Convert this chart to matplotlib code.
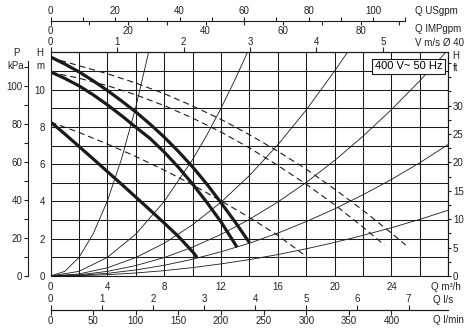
import matplotlib
matplotlib.use('Agg')
import matplotlib.pyplot as plt
from matplotlib.ticker import MultipleLocator, FixedLocator

plt.rcParams['font.family'] = ['Liberation Sans', 'DejaVu Sans']
plt.rcParams['font.size'] = 7

# pump curves (thick), Q in m3/h, H in m
q_speed3 = [0, 1, 2, 3, 4, 5, 6, 7, 8, 9, 10, 11, 12, 13, 14]
h_speed3 = [11.75, 11.37, 10.95, 10.47, 9.95, 9.39, 8.80, 8.15, 7.45, 6.68, 5.85, 4.93, 3.93, 2.89, 1.79]
q_speed2 = [0, 1, 2, 3, 4, 5, 6, 7, 8, 9, 10, 11, 12, 13, 13.13]
h_speed2 = [10.95, 10.6, 10.2, 9.72, 9.18, 8.6, 7.98, 7.38, 6.65, 5.83, 4.93, 3.95, 2.9, 1.7, 1.54]
q_speed1 = [0, 1, 2, 3, 4, 5, 6, 7, 8, 9, 10, 10.31]
h_speed1 = [8.26, 7.62, 6.95, 6.28, 5.6, 4.92, 4.23, 3.54, 2.84, 2.12, 1.3, 1.0]

# dashed curves
q_dash3 = [0, 2, 4, 6, 8, 10, 12, 14, 16, 18, 20, 22, 24, 25]
h_dash3 = [11.72, 11.28, 10.85, 10.35, 9.78, 9.12, 8.4, 7.58, 6.69, 5.73, 4.66, 3.52, 2.3, 1.66]
q_dash2 = [0, 2, 4, 6, 8, 10, 12, 14, 16, 18, 20, 22, 23.5]
h_dash2 = [10.93, 10.61, 10.21, 9.72, 9.14, 8.47, 7.72, 6.87, 5.93, 4.92, 3.82, 2.62, 1.66]
q_dash1 = [0, 2, 4, 6, 8, 10, 12, 14, 16, 18]
h_dash1 = [8.26, 7.7, 7.08, 6.41, 5.68, 4.89, 4.03, 3.14, 2.18, 1.05]

# system curves (thin)
q_sys1 = [0, 1, 2, 3, 4, 5, 6, 6.9]
h_sys1 = [0, 0.25, 1.0, 2.27, 4.03, 6.3, 9.07, 12.0]
q_sys2 = [0, 2, 4, 6, 8, 10, 11, 12, 13, 13.86]
h_sys2 = [0, 0.25, 1.0, 2.25, 4.0, 6.25, 7.56, 9.0, 10.56, 12.0]
q_sys3 = [0, 2, 4, 6, 8, 10, 12, 14, 16, 18, 20, 20.9]
h_sys3 = [0, 0.11, 0.44, 0.99, 1.76, 2.75, 3.96, 5.39, 7.04, 8.91, 11.0, 12.0]
q_sys4 = [0, 2, 4, 6, 8, 10, 12, 14, 16, 18, 20, 22, 24, 26, 27.8]
h_sys4 = [0, 0.06, 0.25, 0.56, 0.99, 1.55, 2.23, 3.04, 3.97, 5.02, 6.2, 7.5, 8.93, 10.48, 11.98]
q_sys5 = [0, 2, 4, 6, 8, 10, 12, 14, 16, 18, 20, 22, 24, 26, 28]
h_sys5 = [0, 0.036, 0.144, 0.324, 0.576, 0.9, 1.3, 1.76, 2.3, 2.92, 3.6, 4.36, 5.18, 6.08, 7.06]
q_sys6 = [0, 2, 4, 6, 8, 10, 12, 14, 16, 18, 20, 22, 24, 26, 28]
h_sys6 = [0, 0.018, 0.072, 0.162, 0.288, 0.45, 0.65, 0.88, 1.15, 1.46, 1.8, 2.18, 2.59, 3.04, 3.53]

W, H = 471, 330
ink = '#1a1a1a'


def fp(x, y):
    return x / W, 1 - y / H


fig = plt.figure(figsize=(W / 100, H / 100), dpi=100)
left, right, bottom, top = 50.6, 448.3, 276.0, 52.3
ax = fig.add_axes([left / W, 1 - bottom / H, (right - left) / W, (bottom - top) / H])
ax.set_xlim(0, 28)
ax.set_ylim(0, 12)
ax.set_xticks(range(0, 25, 4))
ax.xaxis.set_minor_locator(MultipleLocator(2))
ax.set_yticks(range(0, 11, 2))
ax.yaxis.set_minor_locator(MultipleLocator(1))
ax.grid(which='both', color=ink, lw=0.75)
ax.set_axisbelow(True)
ax.tick_params(which='both', length=0, pad=4, colors='#222222')
for s in ax.spines.values():
    s.set_color(ink)
    s.set_linewidth(0.8)

for q, h in [(q_sys1, h_sys1), (q_sys2, h_sys2), (q_sys3, h_sys3),
             (q_sys4, h_sys4), (q_sys5, h_sys5), (q_sys6, h_sys6)]:
    ax.plot(q, h, color=ink, lw=0.6)
for q, h in [(q_dash3, h_dash3), (q_dash2, h_dash2), (q_dash1, h_dash1)]:
    ax.plot(q, h, color=ink, lw=0.8, ls=(0, (5.5, 3.5)))
for q, h in [(q_speed3, h_speed3), (q_speed2, h_speed2), (q_speed1, h_speed1)]:
    ax.plot(q, h, color=ink, lw=2.3, solid_capstyle='butt')

ax.text(0.901, 0.937, '400 V~ 50 Hz', transform=ax.transAxes, ha='center', va='center',
        fontsize=8, zorder=5,
        bbox=dict(boxstyle='square,pad=0.25', fc='white', ec=ink, lw=0.8))

# pressure axis on the left
sp = ax.secondary_yaxis((27.7 - left) / (right - left), functions=(lambda h: h * 9.81, lambda p: p / 9.81))
sp.set_yticks([0, 20, 40, 60, 80, 100])
sp.yaxis.set_minor_locator(FixedLocator([10, 30, 50, 70, 90, 110]))
sp.spines['left'].set_bounds(0, 113)
sp.tick_params(which='both', length=3, width=0.8, pad=1, colors='#222222')

# head in feet on the right
sf = ax.secondary_yaxis('right', functions=(lambda h: h * 3.28084, lambda f: f / 3.28084))
sf.set_yticks([0, 5, 10, 15, 20, 25, 30])
sf.yaxis.set_minor_locator(FixedLocator([2.5, 7.5, 12.5, 17.5, 22.5, 27.5, 32.5, 35, 37.5]))
sf.tick_params(which='both', length=2.3, width=0.8, pad=1, colors='#222222')

# velocity axis on top
sv = ax.secondary_xaxis('top', functions=(lambda q: q / 4.68, lambda v: v * 4.68))
sv.set_xticks([0, 1, 2, 3, 4, 5])
sv.tick_params(length=3.6, width=0.8, pad=0.5, colors='#222222')

# US / imperial gpm share one line
loc_gpm = (bottom - 21.3) / (bottom - top)
su = ax.secondary_xaxis(loc_gpm, functions=(lambda q: q * 4.4029, lambda g: g / 4.4029))
su.set_xticks([0, 20, 40, 60, 80, 100])
su.xaxis.set_minor_locator(FixedLocator([10, 30, 50, 70, 90, 110]))
su.spines['top'].set_bounds(0, 110)
su.tick_params(which='both', length=2.9, width=0.8, pad=1, colors='#222222')

si = ax.secondary_xaxis(loc_gpm, functions=(lambda q: q * 3.6662, lambda g: g / 3.6662))
si.set_alignment('bottom')
si.set_xticks([0, 20, 40, 60, 80])
si.xaxis.set_minor_locator(FixedLocator([10, 30, 50, 70, 90]))
si.spines['bottom'].set_visible(False)
si.tick_params(which='both', length=2.7, width=0.8, pad=1, colors='#222222')

# l/s and l/min share one line below
loc_l = (bottom - 310.0) / (bottom - top)
sl = ax.secondary_xaxis(loc_l, functions=(lambda q: q / 3.6, lambda l: l * 3.6))
sl.set_alignment('top')
sl.set_xticks(range(0, 8))
sl.spines['top'].set_bounds(0, 28 / 3.6)
sl.tick_params(length=3.6, width=0.8, pad=1, colors='#222222')

sm = ax.secondary_xaxis(loc_l, functions=(lambda q: q * 1000 / 60, lambda m: m * 60 / 1000))
sm.set_xticks(range(0, 401, 50))
sm.spines['bottom'].set_bounds(0, 28 * 1000 / 60)
sm.tick_params(length=3.6, width=0.8, pad=1, colors='#222222')

for sec in (sp, sf, sv, su, si, sl, sm):
    for s in sec.spines.values():
        s.set_color(ink)
        s.set_linewidth(0.8)

labels = [('Q USgpm', 415, 11), ('Q IMPgpm', 415, 29), ('V m/s Ø 40', 415, 42.7),
          ('Q m³/h', 431, 287), ('Q l/s', 433, 300), ('Q l/min', 433, 320)]
for txt, x, y in labels:
    fig.text(*fp(x, y), txt, ha='left', va='center', color='#222222')
for txt, x, y in [('P', 16, 53), ('kPa', 16, 66), ('H', 40, 53), ('m', 40, 66),
                  ('H', 456, 56), ('ft', 456, 68)]:
    fig.text(*fp(x, y), txt, ha='center', va='center', color='#222222')

fig.savefig('out.png', dpi=100)
